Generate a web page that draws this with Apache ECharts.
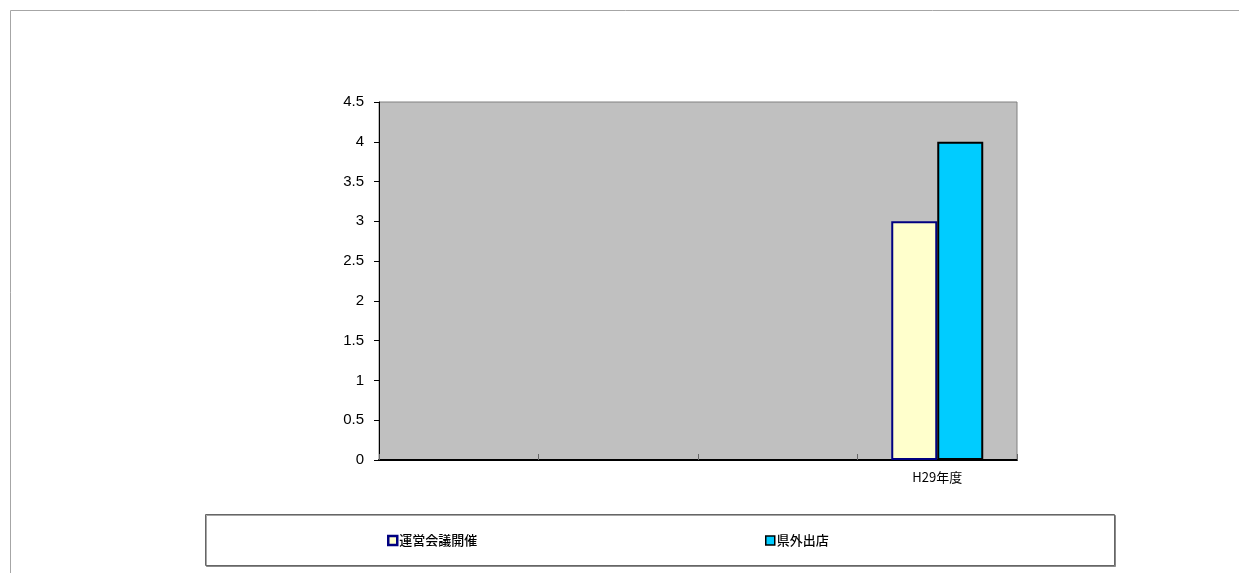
<!DOCTYPE html>
<html>
<head>
<meta charset="utf-8">
<script src="https://cdn.jsdelivr.net/npm/echarts@6/dist/echarts.min.js"></script>
<style>
  html, body { margin: 0; padding: 0; background: #fff; }
  #chart { width: 1239px; height: 573px; }
</style>
</head>
<body>
<div id="chart"></div>
<script>
const categories = ['', '', '', 'H29年度']
const meetingValues = [null, null, null, 3]
const storeValues = [null, null, null, 4]
const yTicks = { min: 0, max: 4.5, interval: 0.5 }

const chart = echarts.init(document.getElementById('chart'))
const jpFont = '"Noto Sans CJK JP", "Liberation Sans", sans-serif'

chart.setOption({
  backgroundColor: '#fff',
  animation: false,
  graphic: [
    {
      type: 'rect',
      shape: { x: 10.5, y: 10.5, width: 1240, height: 600 },
      style: { fill: 'none', stroke: '#a6a6a6', lineWidth: 1 }
    },
    {
      type: 'rect',
      shape: { x: 205.5, y: 514.5, width: 909, height: 51 },
      style: {
        fill: '#fff',
        stroke: '#666',
        lineWidth: 1,
        shadowColor: 'rgba(0,0,0,0.35)',
        shadowOffsetX: 1,
        shadowOffsetY: 1
      },
      z: -1
    }
  ],
  grid: {
    left: 379,
    top: 102,
    width: 638,
    height: 358,
    show: true,
    backgroundColor: '#c0c0c0',
    borderColor: '#808080',
    borderWidth: 1
  },
  legend: [
    {
      left: 382,
      top: 529,
      itemWidth: 9,
      itemHeight: 9,
      textStyle: { fontFamily: jpFont, fontSize: 13, fontWeight: 500, color: '#000', padding: [0, 0, 0, -3] },
      data: [{ name: '運営会議開催', icon: 'rect', itemStyle: { color: '#ffffcc', borderColor: '#000080', borderWidth: 2.5 } }]
    },
    {
      left: 760,
      top: 529,
      itemWidth: 9,
      itemHeight: 9,
      textStyle: { fontFamily: jpFont, fontSize: 13, fontWeight: 500, color: '#000', padding: [0, 0, 0, -3] },
      data: [{ name: '県外出店', icon: 'rect', itemStyle: { color: '#00ccff', borderColor: '#000', borderWidth: 1.5 } }]
    }
  ],
  xAxis: {
    type: 'category',
    data: categories,
    axisLine: { lineStyle: { color: '#000', width: 2 } },
    axisTick: { show: true, interval: 0, inside: true, length: 6, lineStyle: { color: '#666', width: 1 } },
    axisLabel: { fontFamily: jpFont, fontSize: 13, color: '#000', margin: 11, interval: 0 }
  },
  yAxis: {
    type: 'value',
    min: yTicks.min,
    max: yTicks.max,
    interval: yTicks.interval,
    axisLine: { show: true, lineStyle: { color: '#000', width: 1 } },
    axisTick: { show: true, length: 5, lineStyle: { color: '#000' } },
    splitLine: { show: false },
    axisLabel: { fontFamily: '"Liberation Sans", Arial, sans-serif', fontSize: 15, color: '#000', margin: 15 }
  },
  series: [
    {
      name: '運営会議開催',
      type: 'bar',
      data: meetingValues,
      barWidth: 46,
      barGap: '0%',
      itemStyle: { color: '#ffffcc', borderColor: '#000080', borderWidth: 2 }
    },
    {
      name: '県外出店',
      type: 'bar',
      data: storeValues,
      barWidth: 46,
      barGap: '0%',
      itemStyle: { color: '#00ccff', borderColor: '#000', borderWidth: 2 }
    }
  ]
})
</script>
</body>
</html>
